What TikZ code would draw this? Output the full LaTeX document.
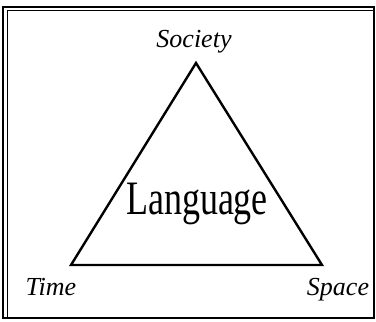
\documentclass[tikz,border=0pt]{standalone}
\usepackage{fontspec}
\setmainfont{Liberation Serif}
\newfontfamily\narrowserif[FakeStretch=0.75]{Liberation Serif}
\usetikzlibrary{positioning}

\tikzset{
  corner/.style={anchor=base,inner sep=0pt,
                 font=\fontsize{26}{30}\selectfont\itshape},
  side/.style={line width=2.4pt,line join=miter}
}

\begin{document}
\begin{tikzpicture}[x=1pt,y=-1pt]
        \useasboundingbox (0,0) rectangle (376,322);
        % frame
        \draw[line width=1.2pt] (3,7) rectangle (374,318);
        \draw[line width=0.8pt] (7,318) -- (7,10.5) -- (374,10.5);

        \coordinate (top) at (196,63);
        \coordinate (left) at (71,265);
        \coordinate (right) at (322,265);

        \node[corner] (society) at (194,47) {Society};
        \node[corner] (time) at (51,295) {Time};
        \node[corner] (space) at (338,295) {Space};
        \node[anchor=base,inner sep=0pt,
              font=\narrowserif\fontsize{48}{56}\selectfont] (language)
              at (197,214) {Language};

        \draw[side] (top) -- (right) -- (left) -- cycle;
    \end{tikzpicture}
\end{document}
